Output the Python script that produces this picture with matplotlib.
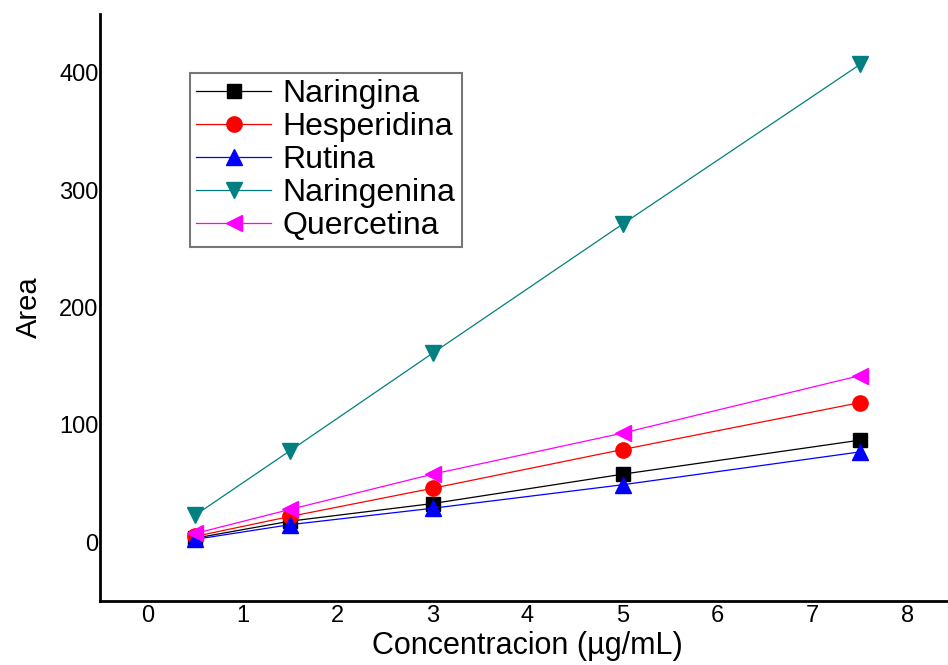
import matplotlib
matplotlib.use("Agg")
from matplotlib import pyplot as plt

plt.rcParams["font.family"] = ["Liberation Sans", "DejaVu Sans"]

# Concentration levels (ug/mL)
conc = [0.5, 1.5, 3, 5, 7.5]

# Peak areas
naringina = [3.5, 18, 33, 58, 87]
hesperidina = [5, 22, 46, 79, 119]
rutina = [2.5, 15, 29, 49, 77]
naringenina = [23, 78, 161, 271, 407]
quercetina = [7.5, 28, 58, 93, 142]

series = [
    ("Naringina", naringina, "black", "s", 10),
    ("Hesperidina", hesperidina, "red", "o", 11),
    ("Rutina", rutina, "blue", "^", 12),
    ("Naringenina", naringenina, "#008080", "v", 12),
    ("Quercetina", quercetina, "magenta", "<", 12),
]

fig = plt.figure(figsize=(9.48, 6.65), dpi=100)
ax = fig.add_axes([100 / 948, 64 / 665, 855 / 948, 587 / 665])

for name, vals, color, marker, ms in series:
    ax.plot(conc, vals, color=color, marker=marker, markersize=ms,
            linewidth=0.9, label=name)

ax.set_xlim(-0.5, 8.5)
ax.set_ylim(-50, 450)
ax.set_xticks(range(0, 9))
ax.set_yticks([0, 100, 200, 300, 400])

for side in ["top", "right"]:
    ax.spines[side].set_visible(False)
for side in ["left", "bottom"]:
    ax.spines[side].set_linewidth(2)

ax.tick_params(axis="x", length=0, pad=3, labelsize=17)
ax.tick_params(axis="y", length=0, pad=1, labelsize=17)

ax.set_xlabel("Concentracion (µg/mL)", fontsize=22, labelpad=3)
ax.set_ylabel("Area", fontsize=21, labelpad=12)

leg = ax.legend(loc="upper left", bbox_to_anchor=(0.105, 0.8995), fontsize=23,
                frameon=True, fancybox=False, edgecolor="#555555",
                handlelength=2.35, handletextpad=0.35, borderpad=0.2,
                labelspacing=0.09, borderaxespad=0)
leg.get_frame().set_linewidth(1.5)

fig.savefig("out.png", dpi=100)
